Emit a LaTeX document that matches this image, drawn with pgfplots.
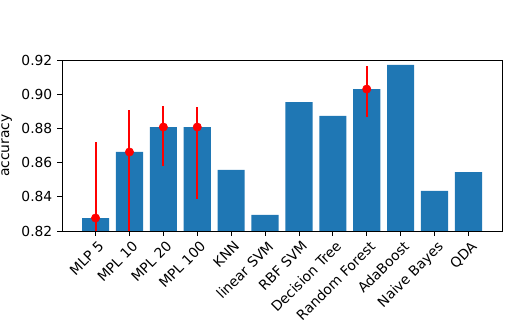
\documentclass[border=0pt]{standalone}
\usepackage{fontspec}
\setmainfont{DejaVu Sans}
\usepackage{pgfplots}
\pgfplotsset{compat=1.18}
\definecolor{mplblue}{HTML}{1F77B4}

\begin{document}
\begin{tikzpicture}
\begin{axis}[
  name=ax,
  scale only axis,
  width=4.4in, height=1.71in,
  xmin=-0.99, xmax=11.99,
  ymin=0.82, ymax=0.92,
  ytick={0.82,0.84,...,0.92},
  xtick={0,...,11},
  xticklabels={MLP 5, MPL 10, MPL 20, MPL 100, KNN, linear SVM, RBF SVM, Decision Tree, Random Forest, AdaBoost, Naive Bayes, QDA},
  xticklabel style={rotate=45, anchor=north east, inner sep=1pt, yshift=-2pt},
  yticklabel style={/pgf/number format/.cd, fixed, fixed zerofill, precision=2, assume math mode=true},
  ylabel={accuracy},
  tick align=outside,
  major tick length=3.5pt,
  tick style={black, line width=0.6pt},
  xtick pos=bottom, ytick pos=left,
  axis line style={line width=0.6pt},
]
% accuracy per classifier
\addplot[ybar, bar width=0.8, fill=mplblue, draw=none] coordinates {
  (0,0.8276) (1,0.8662) (2,0.8808) (3,0.8808) (4,0.8557) (5,0.8294)
  (6,0.8954) (7,0.8873) (8,0.9030) (9,0.9171) (10,0.8434) (11,0.8545)
};
% mean and spread for the repeated runs
\addplot[only marks, mark=*, mark size=3pt, color=red,
  error bars/.cd, y dir=both, y explicit,
  error bar style={red, line width=1.5pt}, error mark=none]
  coordinates {
  (0,0.8276) +- (0,0.0443)
  (1,0.8662) += (0,0.0246) -= (0,0.06)
  (2,0.8808) += (0,0.0123) -= (0,0.0226)
  (3,0.8808) += (0,0.0117) -= (0,0.0419)
  (8,0.9030) += (0,0.0135) -= (0,0.0161)
};
\end{axis}
\pgfresetboundingbox
\path (ax.south west) ++(-0.62in,-0.96in) rectangle ([shift={(0.05in,0.6in)}]ax.north east);
\end{tikzpicture}
\end{document}
